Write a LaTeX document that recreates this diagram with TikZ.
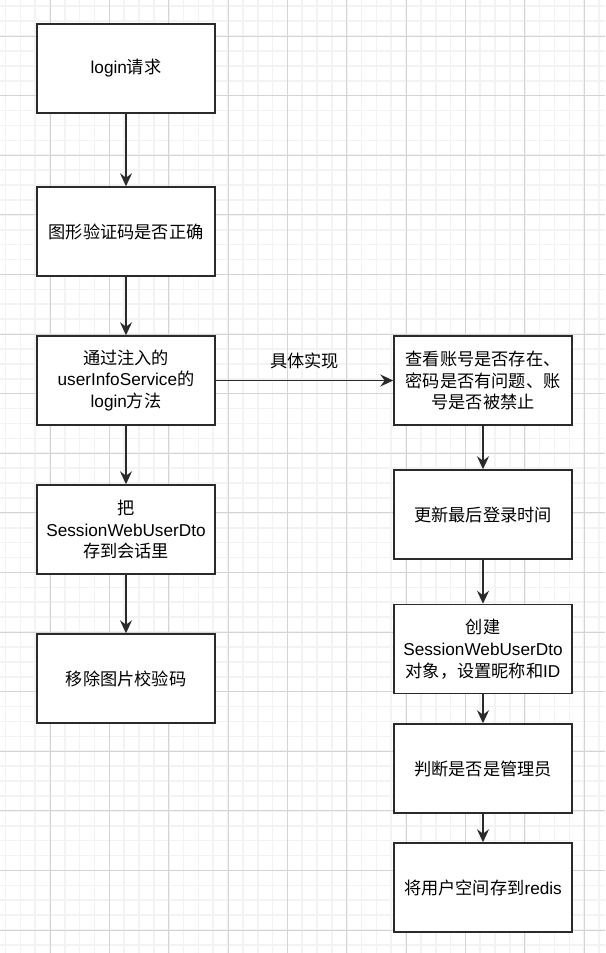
\documentclass[tikz,border=0pt]{standalone}
\usepackage{fontspec}
\setmainfont{Liberation Sans}
\newfontfamily\cjk{Noto Sans CJK SC}
\usetikzlibrary{arrows.meta}
\definecolor{edgec}{HTML}{2A2A2A}
\definecolor{minorc}{HTML}{F3F3F3}
\definecolor{majorc}{HTML}{D4D4D4}
\tikzset{
  minorline/.style={minorc, line width=1.6pt},
  majorline/.style={majorc, line width=0.9pt},
  stepbox/.style={draw=edgec, line width=1.5pt, fill=white, minimum width=178pt, minimum height=89pt, align=center, inner sep=0pt, font=\fontsize{17.2}{21.7}\selectfont},
  flow/.style={draw=edgec, line width=1.5pt, -{Stealth[length=13pt,width=12pt,inset=4.5pt]}},
  lbl/.style={font=\fontsize{17.2}{21.7}\selectfont, inner sep=1pt}
}
\begin{document}
\begin{tikzpicture}[x=1pt,y=-1pt]
\useasboundingbox (0,0) rectangle (605,953);
\fill[white] (0,0) rectangle (605,953);
% grid
\foreach \i in {-4,...,41} {\draw[minorline] ({50+\i*14.8375},0) -- ({50+\i*14.8375},953);}
\foreach \j in {-3,...,64} {\draw[minorline] (0,{36+\j*14.9}) -- (605,{36+\j*14.9});}
\foreach \i in {-1,...,10} {\draw[majorline] ({50+\i*59.35},0) -- ({50+\i*59.35},953);}
\foreach \j in {-1,...,16} {\draw[majorline] (0,{36+\j*59.6}) -- (605,{36+\j*59.6});}
% left column
\node[stepbox] (b1) at (126,68.5) {login{\cjk 请求}};
\node[stepbox] (b2) at (126,231.5) {\cjk 图形验证码是否正确};
\node[stepbox] (b3) at (126,380.5) {{\cjk 通过注入的}\\userInfoService{\cjk 的}\\login{\cjk 方法}};
\node[stepbox] (b4) at (126,529.5) {{\cjk 把}\\SessionWebUserDto\\{\cjk 存到会话里}};
\node[stepbox] (b5) at (126,678.5) {\cjk 移除图片校验码};
% right column
\node[stepbox] (r1) at (483,380.5) {{\cjk 查看账号是否存在、}\\{\cjk 密码是否有问题、账}\\{\cjk 号是否被禁止}};
\node[stepbox] (r2) at (483,514.5) {\cjk 更新最后登录时间};
\node[stepbox] (r3) at (483,649) {{\cjk 创建}\\SessionWebUserDto\\{\cjk 对象，设置昵称和}ID};
\node[stepbox] (r4) at (483,768.5) {\cjk 判断是否是管理员};
\node[stepbox] (r5) at (483,887.5) {{\cjk 将用户空间存到}redis};
% connectors
\draw[flow] (b1) -- (b2);
\draw[flow] (b2) -- (b3);
\draw[flow] (b3) -- (b4);
\draw[flow] (b4) -- (b5);
\draw[flow] (b3) -- node[lbl, pos=0.5, above=10pt] (impl) {\cjk 具体实现} (r1);
\draw[flow] (r1) -- (r2);
\draw[flow] (r2) -- (r3);
\draw[flow] (r3) -- (r4);
\draw[flow] (r4) -- (r5);
\end{tikzpicture}
\end{document}
